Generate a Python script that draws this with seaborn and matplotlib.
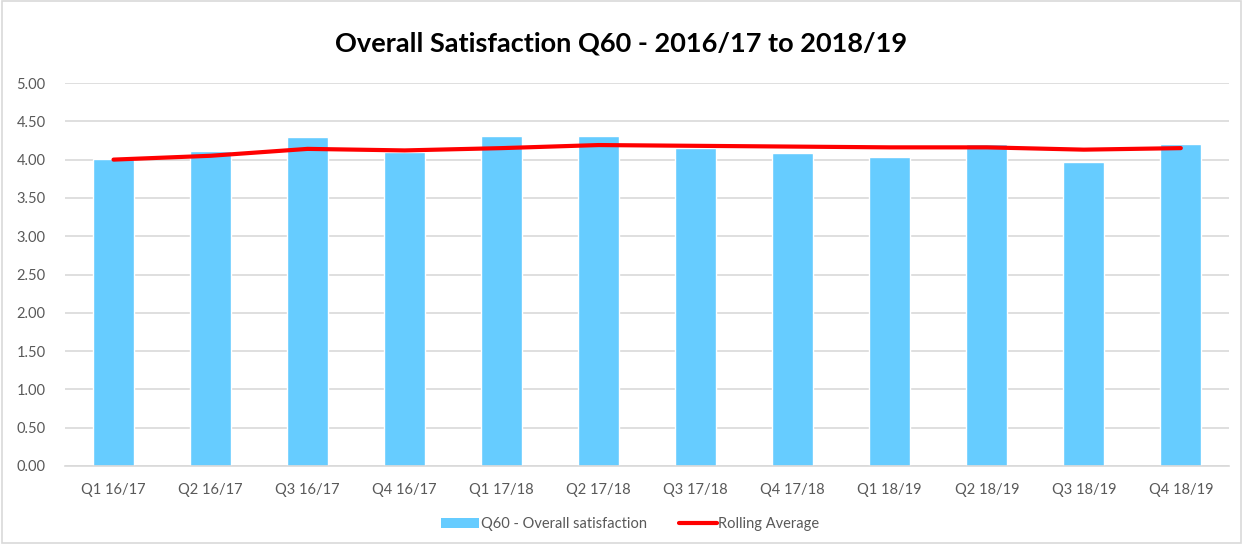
import matplotlib
matplotlib.use("Agg")
import matplotlib.pyplot as plt
import seaborn as sns
import pandas as pd
from matplotlib.lines import Line2D
from matplotlib.patches import Patch, Rectangle

quarters = ["Q1 16/17", "Q2 16/17", "Q3 16/17", "Q4 16/17",
            "Q1 17/18", "Q2 17/18", "Q3 17/18", "Q4 17/18",
            "Q1 18/19", "Q2 18/19", "Q3 18/19", "Q4 18/19"]
satisfaction = [4.01, 4.11, 4.29, 4.10, 4.31, 4.31, 4.15, 4.08, 4.03, 4.20, 3.97, 4.21]
rolling_avg = [4.00, 4.05, 4.14, 4.12, 4.15, 4.19, 4.18, 4.17, 4.16, 4.16, 4.13, 4.15]
y_ticks = [0.0, 0.5, 1.0, 1.5, 2.0, 2.5, 3.0, 3.5, 4.0, 4.5, 5.0]

bar_label = "Q60 - Overall satisfaction"
line_label = "Rolling Average"
title = "Overall Satisfaction Q60 - 2016/17 to 2018/19"

df = pd.DataFrame({"quarter": quarters, "satisfaction": satisfaction,
                   "rolling": rolling_avg})

sns.set_theme(style="white")
plt.rcParams["font.family"] = ["Lato", "DejaVu Sans"]

fig = plt.figure(figsize=(12.43, 5.44), dpi=100)
ax = fig.add_axes([0.0523, 0.1434, 0.9367, 0.704])

bar_color = "#66CCFF"
line_color = "#FF0000"
text_gray = "#595959"

sns.barplot(data=df, x="quarter", y="satisfaction", color=bar_color,
            saturation=1, width=0.42, ax=ax, zorder=2)
ax.plot(range(len(quarters)), df["rolling"], color=line_color, lw=3.0,
        solid_capstyle="round", zorder=3)

ax.set_ylim(0, 5)
ax.set_xlim(-0.5, len(quarters) - 0.5)
ax.set_yticks(y_ticks)
ax.set_yticklabels([f"{v:.2f}" for v in y_ticks])
ax.yaxis.grid(True, color="#D9D9D9", lw=1.2, zorder=0)
ax.set_axisbelow(True)
for side in ["top", "right", "left"]:
    ax.spines[side].set_visible(False)
ax.spines["bottom"].set_color("#D9D9D9")
ax.spines["bottom"].set_linewidth(1.2)
ax.set_xlabel("")
ax.set_ylabel("")
ax.tick_params(axis="both", length=0, labelsize=10.5, labelcolor=text_gray)
ax.tick_params(axis="x", pad=12)
ax.tick_params(axis="y", pad=14)

fig.text(0.5, 0.92, title, ha="center", va="center", fontsize=19.5,
         fontweight="bold", color="black")

handles = [Patch(facecolor=bar_color, edgecolor="none", label=bar_label),
           Line2D([0], [0], color=line_color, lw=3.0, label=line_label)]
fig.legend(handles=handles, loc="center", bbox_to_anchor=(0.507, 0.036),
           ncol=2, frameon=False, fontsize=10.5, labelcolor=text_gray,
           handlelength=2.6, handletextpad=0.1, columnspacing=2.2)

fig.patches.append(Rectangle((0.002, 0.002), 0.996, 0.996,
                             transform=fig.transFigure, fill=False,
                             edgecolor="#D9D9D9", lw=1.2))

fig.savefig("out.png", dpi=100, facecolor="white")
